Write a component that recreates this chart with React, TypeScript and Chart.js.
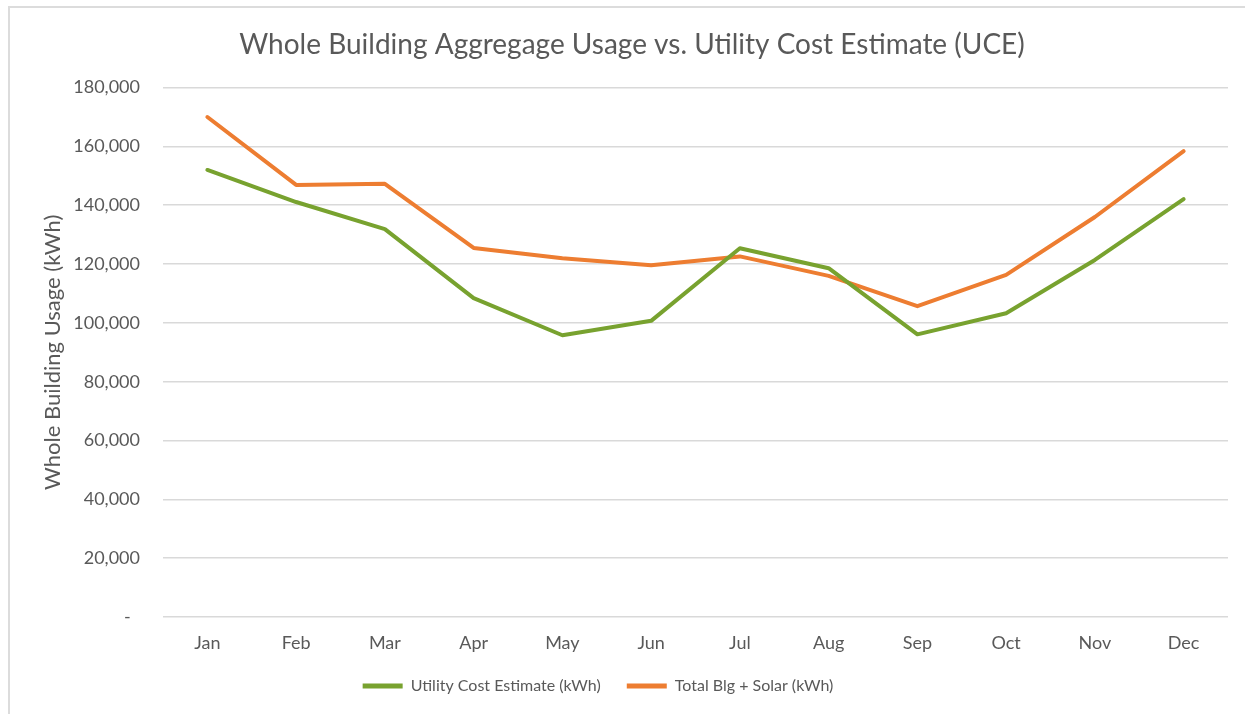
import React, { useEffect, useRef } from "react";
import { Chart, registerables } from "chart.js";

Chart.register(...registerables);

const months = ["Jan", "Feb", "Mar", "Apr", "May", "Jun", "Jul", "Aug", "Sep", "Oct", "Nov", "Dec"];
const utilityCostEstimate = [152000, 141100, 131900, 108400, 95800, 100700, 125400, 118600, 96100, 103300, 121400, 142100];
const totalBlgSolar = [170000, 146900, 147300, 125500, 122000, 119600, 122600, 116000, 105700, 116300, 136000, 158400];
const yTicks = [0, 20000, 40000, 60000, 80000, 100000, 120000, 140000, 160000, 180000];

const GREEN = "#78A22F";
const ORANGE = "#ED7D31";
const TEXT = "#595959";
const GRID = "#D9D9D9";
const FONT = "Lato";
const LEGEND_SHIFT = -34;

const shiftLegend = {
  id: "shiftLegend",
  afterLayout(chart: any) {
    const l = chart.legend;
    if (l) {
      l.left += LEGEND_SHIFT;
      l.right += LEGEND_SHIFT;
    }
  },
};

export default function App() {
  const ref = useRef<HTMLCanvasElement | null>(null);

  useEffect(() => {
    if (!ref.current) return;
    const chart = new Chart(ref.current, {
      type: "line",
      data: {
        labels: months,
        datasets: [
          {
            label: "Utility Cost Estimate (kWh)",
            data: utilityCostEstimate,
            borderColor: GREEN,
            backgroundColor: GREEN,
            borderWidth: 4,
            pointRadius: 0,
            tension: 0,
            borderJoinStyle: "round",
            borderCapStyle: "round",
          },
          {
            label: "Total Blg + Solar (kWh)",
            data: totalBlgSolar,
            borderColor: ORANGE,
            backgroundColor: ORANGE,
            borderWidth: 4,
            pointRadius: 0,
            tension: 0,
            borderJoinStyle: "round",
            borderCapStyle: "round",
          },
        ],
      },
      plugins: [shiftLegend],
      options: {
        responsive: false,
        animation: false,
        layout: { padding: { left: 36, right: 17, top: 18, bottom: 10 } },
        plugins: {
          title: {
            display: true,
            text: "Whole Building Aggregage Usage vs. Utility Cost Estimate (UCE)",
            color: TEXT,
            font: { family: FONT, size: 28, weight: "normal" },
            padding: { top: 10, bottom: 26 },
          },
          legend: {
            position: "bottom",
            labels: {
              color: TEXT,
              font: { family: FONT, size: 16 },
              boxWidth: 40,
              boxHeight: 5,
              padding: 26,
              generateLabels: (c: any) =>
                Chart.defaults.plugins.legend.labels.generateLabels(c).map((item: any) => ({
                  ...item,
                  lineWidth: 0,
                })),
            },
          },
          tooltip: { enabled: false },
        },
        scales: {
          x: {
            offset: true,
            grid: { display: false, drawTicks: false },
            border: { display: false },
            ticks: { color: TEXT, font: { family: FONT, size: 18 }, padding: 15, maxRotation: 0, autoSkip: false },
            afterFit: (scale: any) => {
              scale.height = 35;
            },
          },
          y: {
            min: 0,
            max: 180000,
            afterBuildTicks: (scale: any) => {
              scale.ticks = yTicks.map((v) => ({ value: v }));
            },
            afterFit: (scale: any) => {
              scale.width = 127;
            },
            grid: { color: GRID, lineWidth: 1.5, drawTicks: false },
            border: { display: false },
            ticks: {
              color: TEXT,
              font: { family: FONT, size: 18 },
              padding: 23,
              callback: (v: any) => (Number(v) === 0 ? "-  " : Number(v).toLocaleString("en-US")),
            },
            title: {
              display: true,
              text: "Whole Building Usage (kWh)",
              color: TEXT,
              font: { family: FONT, size: 22 },
              padding: { top: 4, bottom: 9 },
            },
          },
        },
      },
    });
    return () => chart.destroy();
  }, []);

  return (
    <div style={{ position: "absolute", left: 0, top: 0, width: 1245, height: 714, background: "#fff" }}>
      <div
        style={{
          position: "absolute",
          left: 8,
          top: 6,
          right: 0,
          bottom: 0,
          borderTop: "2px solid #DCDCDC",
          borderLeft: "2px solid #DCDCDC",
        }}
      />
      <canvas ref={ref} width={1245} height={714} style={{ position: "absolute", left: 0, top: 0 }} />
    </div>
  );
}
